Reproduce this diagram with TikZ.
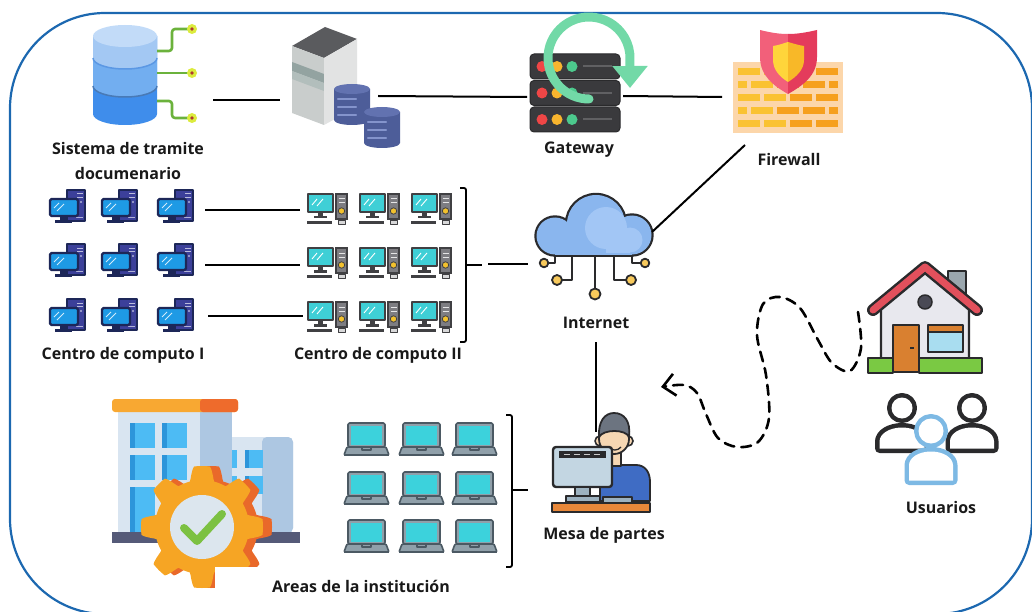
\documentclass[tikz,border=0pt]{standalone}
\usepackage{fontspec}
\setmainfont{Open Sans}
\usetikzlibrary{arrows.meta}

% palette
\definecolor{frameblue}{HTML}{1C68B0}
\definecolor{ink}{HTML}{2A2A2C}
\definecolor{dbTop}{HTML}{C2DBF8}
\definecolor{dbA}{HTML}{A3C8F3}
\definecolor{dbB}{HTML}{72AEF0}
\definecolor{dbC}{HTML}{3F8DEB}
\definecolor{dbLine}{HTML}{5B98E4}
\definecolor{dbGreen}{HTML}{6BB23C}
\definecolor{dotGlow}{HTML}{DCEB3E}
\definecolor{dotCore}{HTML}{B0392C}
\definecolor{towTop}{HTML}{5A5B5E}
\definecolor{towLeft}{HTML}{C9CDCC}
\definecolor{towBand}{HTML}{93A3A1}
\definecolor{towBand2}{HTML}{B2BEBC}
\definecolor{towRight}{HTML}{E2E3E3}
\definecolor{cylBody}{HTML}{4D5D99}
\definecolor{cylTop}{HTML}{6272B0}
\definecolor{cylStripe}{HTML}{8494CC}
\definecolor{gwBody}{HTML}{3A3A3D}
\definecolor{gwEdge}{HTML}{2A2A2C}
\definecolor{gwLine}{HTML}{606063}
\definecolor{gwRed}{HTML}{EF4646}
\definecolor{gwYel}{HTML}{F8B52E}
\definecolor{gwGrn}{HTML}{4CC98D}
\definecolor{gwArc}{HTML}{72D9A7}
\definecolor{fwBg}{HTML}{FCD6AA}
\definecolor{brickY}{HTML}{FAC232}
\definecolor{brickO}{HTML}{F6A01E}
\definecolor{shieldL}{HTML}{F2607A}
\definecolor{shieldR}{HTML}{E43B5C}
\definecolor{innerL}{HTML}{FFD53B}
\definecolor{innerR}{HTML}{F8B828}
\definecolor{cloudFill}{HTML}{8AB6EE}
\definecolor{cloudHi}{HTML}{A2C6F5}
\definecolor{nodeDot}{HTML}{F7C95C}
\definecolor{pcNavy}{HTML}{1D2758}
\definecolor{pcTower}{HTML}{3C409A}
\definecolor{pcBlue}{HTML}{1E9AE5}
\definecolor{pcDark}{HTML}{404043}
\definecolor{pcPanel}{HTML}{7D7D82}
\definecolor{pcCyan}{HTML}{3FCFD6}
\definecolor{pcYellow}{HTML}{F2C12E}
\definecolor{lapGray}{HTML}{90A0AA}
\definecolor{lapDark}{HTML}{4B5963}
\definecolor{lapCyan}{HTML}{3CD2DC}
\definecolor{skin}{HTML}{F6D7B3}
\definecolor{hair}{HTML}{6C7480}
\definecolor{shirt}{HTML}{3F6CC4}
\definecolor{monScreen}{HTML}{C3D6E2}
\definecolor{monStand}{HTML}{9DB2C0}
\definecolor{desk}{HTML}{E8883A}
\definecolor{bldLight}{HTML}{D9E5F1}
\definecolor{bldShade}{HTML}{ADC7E2}
\definecolor{bldWin}{HTML}{4DBBF4}
\definecolor{bldWinD}{HTML}{2D95DA}
\definecolor{roofY}{HTML}{F8A832}
\definecolor{roofO}{HTML}{EE6B2C}
\definecolor{bldBase}{HTML}{555A78}
\definecolor{gearF}{HTML}{F6A524}
\definecolor{gearD}{HTML}{E9692A}
\definecolor{gearIn}{HTML}{DCE6EE}
\definecolor{check}{HTML}{7CC142}
\definecolor{houseWall}{HTML}{E8E8EE}
\definecolor{houseRoof}{HTML}{E2505C}
\definecolor{chimney}{HTML}{9BA7AE}
\definecolor{darkWin}{HTML}{4A4A55}
\definecolor{door}{HTML}{D98030}
\definecolor{winBlue}{HTML}{A9DDF0}
\definecolor{grass}{HTML}{7AC943}
\definecolor{userBlue}{HTML}{7DB9E4}

\tikzset{
  lbl/.style={font=\fontsize{16}{25}\selectfont\bfseries, text=black!90, align=center, inner sep=0pt},
  link/.style={draw=black, line width=2},
  brace/.style={draw=black, line width=1.8, rounded corners=2},
  flow/.style={draw=black, line width=2.6, dash pattern=on 10pt off 7pt, line cap=round,
    -{Straight Barb[length=12pt,width=22pt]}},
  % desktop with blue monitor and indigo tower
  pcA/.pic={
    \filldraw[fill=pcTower, draw=pcNavy, line width=1.2] (17,0) rectangle (35,31);
    \draw[white!65!pcTower, line width=1] (27,4) -- (33,4) (27,7.5) -- (33,7.5);
    \fill[white!60!pcTower] (31,12) circle (1.2);
    \draw[white!60!pcTower, line width=0.8] (26,27) -- (33,27);
    \filldraw[fill=pcBlue, draw=pcNavy, line width=2.4, rounded corners=1.5] (0,9) rectangle (28,26);
    \draw[white!80!pcBlue, line width=1] (4,18) -- (9,13) (7,21) -- (14,14);
    \fill[pcNavy] (10,26) rectangle (17,30);
    \fill[pcNavy] (5,30) rectangle (22,33);
  },
  % desktop with cyan monitor and grey tower
  pcB/.pic={
    \fill[pcDark] (28,0) rectangle (41,27);
    \fill[pcPanel] (30,2) rectangle (39,25);
    \draw[white!80!pcPanel, line width=1] (31.5,6) -- (37.5,6) (31.5,10) -- (37.5,10);
    \filldraw[fill=pcYellow, draw=pcDark, line width=0.8] (34.5,18) circle (3.2);
    \filldraw[fill=pcCyan, draw=pcDark, line width=2] (1,1) rectangle (26,19);
    \draw[white, line width=0.9] (5,12) -- (10,6) (10,13) -- (16,6);
    \fill[pcDark] (11,19) rectangle (16,24);
    \fill[pcDark] (7,23) rectangle (20,25.5);
    \fill[pcDark] (0,28) rectangle (25,31);
    \filldraw[fill=white!70!pcPanel, draw=pcDark, line width=1] (31,27.5) rectangle (38,31.5);
  },
  laptop/.pic={
    \filldraw[fill=lapGray, draw=lapDark, line width=1.6, rounded corners=1.5] (3,0) rectangle (40,24);
    \fill[lapCyan] (6,3) rectangle (37,21.5);
    \filldraw[fill=lapGray, draw=lapDark, line width=1.6, rounded corners=1] (2,24) -- (41,24) -- (44,32) -- (-1,32) -- cycle;
    \draw[lapDark, line width=2.2] (-1,32) -- (44,32);
    \draw[lapDark, line width=1.2] (17,24) rectangle (26,27);
  },
}

% one user silhouette: head centre x, head centre y, head radius, half width, body top, body bottom, colour
\newcommand\usericon[7]{%
  \draw[#7, line width=9] (#1,#2) circle (#3)
    (#1-#4,#6) -- (#1-#4,#5+#4*0.62) arc[start angle=180, end angle=360, x radius=#4, y radius=#4*0.62] -- (#1+#4,#6) -- cycle;
  \fill[white] (#1,#2) circle (#3)
    (#1-#4,#6) -- (#1-#4,#5+#4*0.62) arc[start angle=180, end angle=360, x radius=#4, y radius=#4*0.62] -- (#1+#4,#6) -- cycle;
}

% small database cylinder: left x, top y
\newcommand\dbcyl[2]{%
  \fill[cylBody] (#1,#2+5) -- (#1,#2+36) arc[start angle=180, end angle=0, x radius=18, y radius=5] -- (#1+36,#2+5) -- cycle;
  \fill[cylTop] (#1+18,#2+5) ellipse[x radius=18, y radius=5];
  \foreach \s in {15,23,31} \draw[cylStripe, line width=2.2, line cap=round] (#1+4,#2+\s) -- (#1+22,#2+\s);
}

\begin{document}
\begin{tikzpicture}[x=1pt, y=-1pt, line join=round]
\useasboundingbox (0,0) rectangle (1032,612);

% outer frame
\draw[frameblue, line width=2.2, rounded corners=95] (10,13) rectangle (1032,614);

% ---------- document system database ----------
\fill[dbC] (93,36) -- (93,114) arc[start angle=180, end angle=0, x radius=32, y radius=11] -- (157,36) -- cycle;
\fill[dbB] (93,36) -- (93,86) arc[start angle=180, end angle=0, x radius=32, y radius=11] -- (157,36) -- cycle;
\fill[dbA] (93,36) -- (93,58) arc[start angle=180, end angle=0, x radius=32, y radius=11] -- (157,36) -- cycle;
\fill[dbTop] (125,36) ellipse[x radius=32, y radius=11];
\draw[dbLine, line width=1.5] (93,58) arc[start angle=180, end angle=0, x radius=32, y radius=11];
\draw[dbLine!80!black, line width=1.5] (93,86) arc[start angle=180, end angle=0, x radius=32, y radius=11];
\draw[dbGreen, line width=2.6, rounded corners=3] (157,51) -- (172,51) -- (172,29) -- (190,29);
\draw[dbGreen, line width=2.6] (157,73) -- (190,73);
\draw[dbGreen, line width=2.6, rounded corners=3] (157,101) -- (172,101) -- (172,118) -- (190,118);
\foreach \y in {29,73,118} {
  \fill[dotGlow] (192,\y) circle (5);
  \fill[dotCore] (192,\y) circle (1.8);
}
\node[lbl] (lSis) at (128,161) {Sistema de tramite\\documenario};

% ---------- application server ----------
\fill[towTop] (292,46) -- (325,27) -- (357,39) -- (324,58) -- cycle;
\fill[towLeft] (292,46) -- (324,58) -- (324,125) -- (292,113) -- cycle;
\fill[towBand] (292,62) -- (324,74) -- (324,83) -- (292,71) -- cycle;
\fill[towBand2] (292,71) -- (324,83) -- (324,91) -- (292,79) -- cycle;
\fill[towRight] (324,58) -- (357,39) -- (357,107) -- (324,125) -- cycle;
\dbcyl{334}{84}
\dbcyl{364}{107}

% ---------- gateway ----------
\foreach \y in {54,80.5,107} {
  \filldraw[fill=gwBody, draw=gwEdge, line width=1, rounded corners=4] (530,\y) rectangle (620,\y+25);
  \fill[gwRed] (542,\y+12.5) circle (5.5);
  \fill[gwYel] (557,\y+12.5) circle (5.5);
  \fill[gwGrn] (572,\y+12.5) circle (5.5);
  \draw[gwLine, line width=2] (583,\y+12.5) -- (612,\y+12.5);
}
\draw[gwArc, line width=9, line cap=round, -{Triangle[length=22pt,width=34pt]}]
  (589,99) arc[start angle=90, end angle=362, radius=41] -- (630,88);
\node[lbl] (lGw) at (579,150) {Gateway};

% ---------- firewall ----------
\fill[fwBg] (733,62) rectangle (843,133);
\foreach \y in {68,94.5,120.5}
  \foreach \x/\c in {738/brickY,764/brickY,790/brickO,816/brickO}
    \fill[\c] (\x,\y) rectangle (\x+22,\y+7);
\foreach \y in {81.5,107.5}
  \foreach \x/\w/\c in {738/9/brickY,751/22/brickY,777/22/brickO,803/22/brickO,829/9/brickO}
    \fill[\c] (\x,\y) rectangle (\x+\w,\y+7);
\fill[shieldL] (760,30) .. controls (772,33) and (780,34) .. (788,34) -- (788,94)
  .. controls (774,86) and (760,76) .. (760,57) -- cycle;
\fill[shieldR] (788,34) .. controls (796,34) and (804,33) .. (817,30) -- (817,57)
  .. controls (817,76) and (802,86) .. (788,94) -- cycle;
\fill[innerL] (773,46) .. controls (780,45) and (784,43) .. (788,42) -- (788,82)
  .. controls (780,77) and (773,70) .. (773,60) -- cycle;
\fill[innerR] (788,42) .. controls (792,43) and (797,45) .. (804,46) -- (804,60)
  .. controls (804,70) and (796,77) .. (788,82) -- cycle;
\node[lbl] (lFw) at (789,160) {Firewall};

% ---------- internet cloud ----------
\foreach \c in {{(555,236) circle (18.5)},{(596,224) circle (29)},{(632,235) circle (19.5)},{(555,228) rectangle (632,254.5)}}
  \draw[ink, line width=4.4] \c;
\foreach \c in {{(555,236) circle (18.5)},{(596,224) circle (29)},{(632,235) circle (19.5)},{(555,228) rectangle (632,254.5)}}
  \fill[cloudFill] \c;
\foreach \c in {{(606,228) circle (21)},{(630,240) circle (12.5)},{(606,238) rectangle (630,252.5)}}
  \fill[cloudHi] \c;
\draw[ink, line width=2.2] (555,256) -- (555,263) -- (548,263)
  (572,256) -- (572,280) -- (562,280)
  (595,256) -- (595,289)
  (614,256) -- (614,280) -- (626,280)
  (632,256) -- (632,263) -- (641,263);
\foreach \p/\r in {{(544,263)}/4.3,{(557,280)}/5,{(595,294)}/5.5,{(631,280)}/5,{(645,263)}/4.3}
  \filldraw[fill=nodeDot, draw=ink, line width=1.8] \p circle (\r);
\node[lbl] (lNet) at (596,323) {Internet};

% ---------- computing centre I ----------
\foreach \x [count=\i] in {50,102,158}
  \foreach \y [count=\j] in {190,244,299}
    \pic (ccA\i\j) at (\x,\y) {pcA};
\node[lbl] (lCc1) at (123,355) {Centro de computo I};

% ---------- computing centre II ----------
\foreach \x [count=\i] in {307,359,411}
  \foreach \y [count=\j] in {193,247,301}
    \pic (ccB\i\j) at (\x,\y) {pcB};
\node[lbl] (lCc2) at (378,355) {Centro de computo II};

% ---------- institution areas: laptops ----------
\foreach \x [count=\i] in {345,400,453}
  \foreach \y [count=\j] in {423,472,520}
    \pic (lap\i\j) at (\x,\y) {laptop};

% ---------- institution building with gear ----------
\fill[bldLight] (213,437) [rounded corners=5] -- (213,533) -- (293,533) -- (293,437) -- cycle;
\fill[bldShade] (262,437) [rounded corners=5] -- (262,533) -- (293,533) -- (293,437) -- cycle;
\foreach \x in {219,245}
  \foreach \y in {450,476} {
    \fill[bldWin] (\x,\y) rectangle (\x+18,\y+18);
    \fill[bldWinD] (\x,\y) rectangle (\x+4,\y+18);
  }
\fill[bldLight] (118,412) rectangle (232,533);
\fill[bldShade] (200,412) rectangle (232,533);
\fill[roofY] (112,399) [rounded corners=3] -- (112,412) -- (238,412) -- (238,399) -- cycle;
\fill[roofO] (200,399) [rounded corners=3] -- (200,412) -- (238,412) -- (238,399) -- cycle;
\foreach \x in {130,162}
  \foreach \y/\h in {423/25,455/25,487/46} {
    \fill[bldWin] (\x,\y) rectangle (\x+25,\y+\h);
    \fill[bldWinD] (\x,\y) rectangle (\x+5,\y+\h);
  }
\fill[bldBase] (112,532) rectangle (300,543);
\fill[gearD] plot[domain=0:360, samples=241, variable=\t]
  ({211+(54+7*max(-1,min(1,2.2*cos(8*\t))))*cos(\t)}, {527+(54+7*max(-1,min(1,2.2*cos(8*\t))))*sin(\t)}) -- cycle;
\fill[gearF] plot[domain=0:360, samples=241, variable=\t]
  ({202+(54+7*max(-1,min(1,2.2*cos(8*\t))))*cos(\t)}, {527+(54+7*max(-1,min(1,2.2*cos(8*\t))))*sin(\t)}) -- cycle;
\fill[gearIn] (202,527) circle (32);
\draw[check, line width=8, line cap=round] (184,528) -- (197,541) -- (222,514);
\fill[white] (215,567) rectangle (282,600);
\node[lbl] (lAreas) at (361,586) {Areas de la institución};

% ---------- front desk ----------
\filldraw[fill=skin, draw=ink, line width=1.6] (600,441) circle (5) (628,441) circle (5);
\filldraw[fill=shirt, draw=ink, line width=1.8] (600,501) -- (600,482) .. controls (600,470) and (607,465) .. (616,465)
  -- (636,465) .. controls (645,465) and (650,472) .. (650,482) -- (650,501) -- cycle;
\filldraw[fill=skin, draw=ink, line width=1.6] (609,452) rectangle (621,466);
\filldraw[fill=skin, draw=ink, line width=1.8] (614,439) circle (15);
\filldraw[fill=hair, draw=ink, line width=1.8] (599,437) .. controls (598,421) and (605,413) .. (614,413)
  .. controls (624,413) and (631,421) .. (629,437) .. controls (626,429) and (603,429) .. (599,437) -- cycle;
\draw[ink, line width=1.3] (608,447) .. controls (612,451) and (618,451) .. (621,447);
\filldraw[fill=monScreen, draw=ink, line width=2.4, rounded corners=3] (553,447) rectangle (612,487);
\fill[ink] (559,451) rectangle (606,458);
\foreach \x in {564,574,584,594} \draw[white!75!ink, line width=1.6] (\x,454.5) -- (\x+6,454.5);
\filldraw[fill=monStand, draw=ink, line width=1.8] (575,487) rectangle (590,497);
\filldraw[fill=monStand, draw=ink, line width=1.8] (566,496) rectangle (600,502);
\filldraw[fill=monStand, draw=ink, line width=1.6] (603,497) rectangle (632,503);
\filldraw[fill=desk, draw=ink, line width=2] (552,503) rectangle (650,512);
\node[lbl] (lMesa) at (604,535) {Mesa de partes};

% ---------- home ----------
\filldraw[fill=chimney, draw=ink, line width=2] (948,271) rectangle (966,302);
\filldraw[fill=houseWall, draw=ink, line width=2.2] (881,308) -- (925,272) -- (969,308) -- (969,362) -- (881,362) -- cycle;
\draw[ink, line width=12, line cap=round] (873,310) -- (925,267) -- (977,310);
\draw[houseRoof, line width=7, line cap=round] (873,310) -- (925,267) -- (977,310);
\filldraw[fill=darkWin, draw=ink, line width=1.5] (925,302) circle (7);
\filldraw[fill=door, draw=ink, line width=2] (893,325) rectangle (919,372);
\draw[ink, line width=2] (910,348) -- (914,348);
\filldraw[fill=winBlue, draw=ink, line width=2] (928,325) rectangle (963,352);
\fill[door] (929,326) rectangle (962,332);
\draw[ink, line width=1.5] (928,332) -- (963,332);
\filldraw[fill=grass, draw=ink, line width=2] (868,358) rectangle (893,373);
\filldraw[fill=grass, draw=ink, line width=2] (919,358) rectangle (982,373);

% ---------- users ----------
\usericon{902}{408}{10.5}{22.5}{427.5}{448.5}{ink}
\usericon{972}{408}{10.5}{22}{427.5}{448.5}{ink}
\usericon{931}{431}{12.5}{22}{451.5}{480.5}{userBlue}
\node[lbl] (lUsr) at (941,507) {Usuarios};

% ---------- connection points ----------
\coordinate (dbOut) at (213,100);
\coordinate (srvIn) at (280,100);
\coordinate (srvOut) at (378,96);
\coordinate (gwIn) at (527,97);
\coordinate (gwOut) at (623,96);
\coordinate (fwIn) at (722,97);
\coordinate (fwOut) at (745,145);
\coordinate (netNE) at (652,232);
\coordinate (netW) at (528,264);
\coordinate (netS) at (596,342);
\coordinate (mesaN) at (596,432);
\coordinate (mesaW) at (528,490);
\coordinate (rowA1) at (205,210); \coordinate (rowB1) at (300,210);
\coordinate (rowA2) at (205,265); \coordinate (rowB2) at (300,265);
\coordinate (rowA3) at (208,316); \coordinate (rowB3) at (303,316);
\coordinate (braceA) at (466,265);
\coordinate (braceAtip) at (482,265);
\coordinate (braceAout) at (488,264);
\coordinate (braceB) at (512,490);
\coordinate (homeOut) at (858,312);

% ---------- connectors ----------
\draw[link] (dbOut) -- (srvIn);
\draw[link] (srvOut) -- (gwIn);
\draw[link] (gwOut) -- (fwIn);
\draw[link] (fwOut) -- (netNE);
\draw[link] (netS) -- (mesaN);
\draw[link] (rowA1) -- (rowB1);
\draw[link] (rowA2) -- (rowB2);
\draw[link] (rowA3) -- (rowB3);
\draw[brace] (460,188) -- (466,188) -- (466,342) -- (460,342);
\draw[link, line width=1.8] (braceA) -- (braceAtip);
\draw[link] (braceAout) -- (netW);
\draw[brace] (506,415) -- (512,415) -- (512,567) -- (506,567);
\draw[link, line width=1.8] (braceB) -- (mesaW);
\draw[flow] plot[smooth, tension=0.55] coordinates {(homeOut) (861,348) (850,371) (832,363) (818,340) (800,308)
  (780,297) (763,304) (757,335) (766,375) (769,418) (758,442) (737,447) (718,438) (706,414) (697,393) (684,385) (661,387)};

\end{tikzpicture}
\end{document}
